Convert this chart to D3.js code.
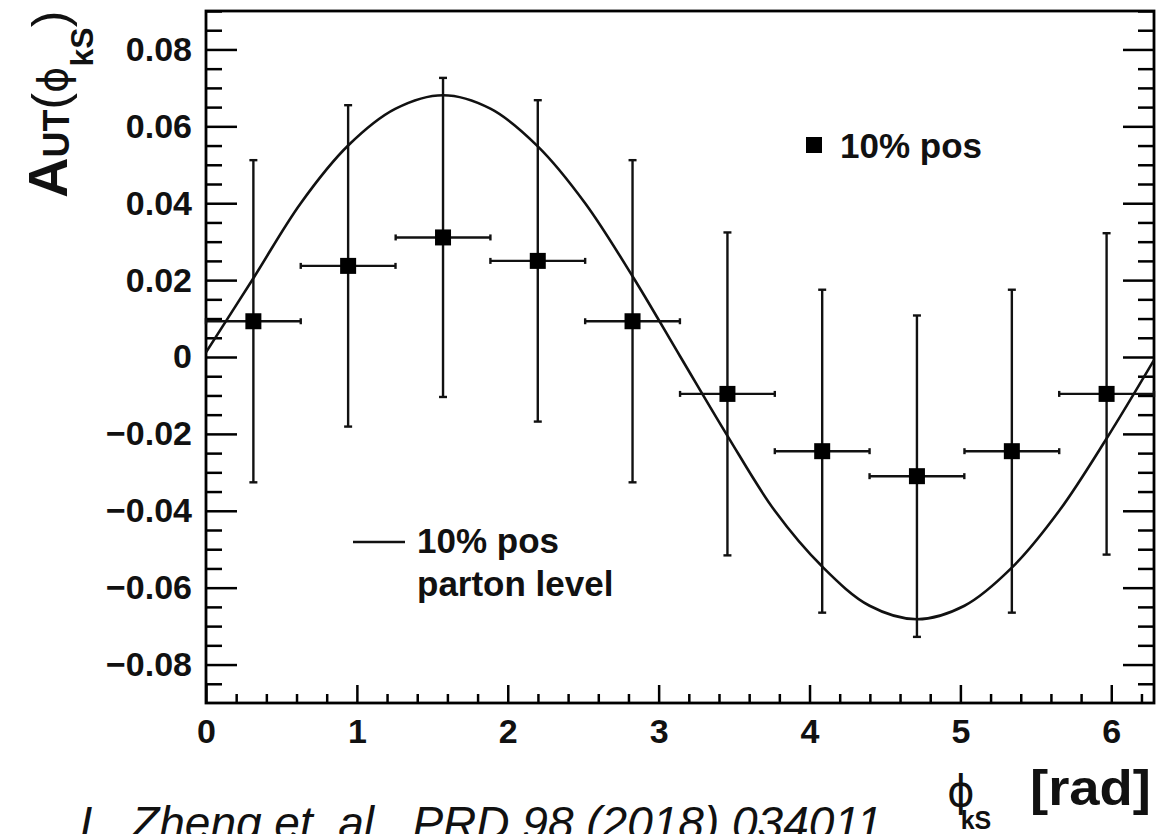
<!DOCTYPE html>
<html><head><meta charset="utf-8">
<script src="https://cdn.jsdelivr.net/npm/d3@7"></script>
<style>body{margin:0;background:#fff}svg{display:block}</style>
</head><body><svg id="c" width="1176" height="834"></svg>
<script>
// ---------- data ----------
const binCenters   = [0.314, 0.942, 1.571, 2.199, 2.827, 3.456, 4.084, 4.712, 5.341, 5.969];
const binHalfWidth = [0.314, 0.314, 0.314, 0.314, 0.314, 0.314, 0.314, 0.314, 0.314, 0.314];
const asymValues   = [0.0093, 0.0237, 0.0311, 0.0250, 0.0093, -0.0096, -0.0245, -0.0310, -0.0245, -0.0096];
const asymErrors   = [0.0419, 0.0418, 0.0415, 0.0418, 0.0419, 0.0420, 0.0420, 0.0418, 0.0420, 0.0418];
const curveX = [0, 0.314, 0.628, 0.942, 1.257, 1.571, 1.885, 2.199, 2.513, 2.827, 3.142,
                3.456, 3.770, 4.084, 4.398, 4.712, 5.027, 5.341, 5.655, 5.969, 6.283];
const curveY = [0.0012, 0.0205, 0.0400, 0.0550, 0.0646, 0.0681, 0.0646, 0.0548, 0.0400, 0.0210, 0.0002,
                -0.0205, -0.0400, -0.0545, -0.0647, -0.0682, -0.0647, -0.0548, -0.0400, -0.0212, -0.0008];
const xTickValues = [0, 1, 2, 3, 4, 5, 6];
const xTickLabels = ["0", "1", "2", "3", "4", "5", "6"];
const yTickValues = [-0.08, -0.06, -0.04, -0.02, 0, 0.02, 0.04, 0.06, 0.08];
const yTickLabels = ["\u22120.08", "\u22120.06", "\u22120.04", "\u22120.02", "0", "0.02", "0.04", "0.06", "0.08"];
const legendMarkerLabel = "10% pos";
const legendLineLabel = ["10% pos", "parton level"];
const caption = "L. Zheng et. al., PRD 98 (2018) 034011";

// ---------- layout ----------
const F = "'Liberation Sans', Arial, Helvetica, sans-serif";
const FP = "'DejaVu Sans', sans-serif";
const PHI = "\u03d5";
const L = 206, R = 1154, T = 11, B = 703;
const svg = d3.select("#c");
const x = d3.scaleLinear().domain([0, 2 * Math.PI]).range([L, R]);
const y = d3.scaleLinear().domain([-0.09, 0.09]).range([B, T]);

const xMinor = d3.range(0, 6.3, 0.2).filter(v => Math.abs(v - Math.round(v)) > 1e-6);
const yMinor = d3.range(-0.085, 0.0901, 0.005).filter(v => Math.abs(v * 50 - Math.round(v * 50)) > 1e-6);

function styleAxis(g) {
  g.select(".domain").remove();
  g.selectAll("line").attr("stroke", "#000").attr("stroke-width", 2.5);
  g.selectAll("text").attr("font-family", F).attr("font-weight", "bold")
    .attr("font-size", 34).attr("fill", "#111");
}

// major/minor ticks
svg.append("g").attr("transform", `translate(${L},0)`)
  .call(d3.axisLeft(y).tickValues(yTickValues).tickSize(-31).tickPadding(14)
    .tickFormat((d, i) => yTickLabels[i])).call(styleAxis);
svg.append("g").attr("transform", `translate(${L},0)`)
  .call(d3.axisLeft(y).tickValues(yMinor).tickSize(-16).tickFormat("")).call(styleAxis);
svg.append("g").attr("transform", `translate(${R},0)`)
  .call(d3.axisRight(y).tickValues(yTickValues).tickSize(-31).tickFormat("")).call(styleAxis);
svg.append("g").attr("transform", `translate(${R},0)`)
  .call(d3.axisRight(y).tickValues(yMinor).tickSize(-16).tickFormat("")).call(styleAxis);
svg.append("g").attr("transform", `translate(0,${B})`)
  .call(d3.axisBottom(x).tickValues(xTickValues).tickSize(-18).tickPadding(16)
    .tickFormat((d, i) => xTickLabels[i])).call(styleAxis);
svg.append("g").attr("transform", `translate(0,${B})`)
  .call(d3.axisBottom(x).tickValues(xMinor).tickSize(-9).tickFormat("")).call(styleAxis);

// frame
svg.append("rect").attr("x", L).attr("y", T).attr("width", R - L).attr("height", B - T)
  .attr("fill", "none").attr("stroke", "#000").attr("stroke-width", 2.8);

// clip
svg.append("clipPath").attr("id", "clip").append("rect")
  .attr("x", L).attr("y", T).attr("width", R - L).attr("height", B - T);

// curve
const curvePts = curveX.map((v, i) => [v, curveY[i]]);
svg.append("path").attr("clip-path", "url(#clip)")
  .attr("d", d3.line().x(d => x(d[0])).y(d => y(d[1])).curve(d3.curveCatmullRom.alpha(0.5))(curvePts))
  .attr("fill", "none").attr("stroke", "#111").attr("stroke-width", 2.6);

// error bars
const pts = binCenters.map((c, i) => ({ c, h: binHalfWidth[i], v: asymValues[i], e: asymErrors[i] }));
const eb = svg.append("g").attr("stroke", "#111").attr("stroke-width", 2.4);
pts.forEach(p => {
  eb.append("line").attr("x1", x(p.c - p.h)).attr("x2", x(p.c + p.h)).attr("y1", y(p.v)).attr("y2", y(p.v));
  eb.append("line").attr("x1", x(p.c)).attr("x2", x(p.c)).attr("y1", y(p.v - p.e)).attr("y2", y(p.v + p.e));
  // caps
  [p.v - p.e, p.v + p.e].forEach(v => eb.append("line")
    .attr("x1", x(p.c) - 4).attr("x2", x(p.c) + 4).attr("y1", y(v)).attr("y2", y(v)));
  [p.c - p.h, p.c + p.h].forEach(c => eb.append("line")
    .attr("x1", x(c)).attr("x2", x(c)).attr("y1", y(p.v) - 3).attr("y2", y(p.v) + 3));
});
// markers
svg.append("g").selectAll("rect").data(pts).join("rect")
  .attr("x", d => x(d.c) - 8).attr("y", d => y(d.v) - 8).attr("width", 16).attr("height", 16)
  .attr("fill", "#000");

// legend 1
svg.append("rect").attr("x", 806).attr("y", 137).attr("width", 16).attr("height", 16).attr("fill", "#000");
svg.append("text").attr("x", 840).attr("y", 158).attr("font-family", F).attr("font-weight", "bold")
  .attr("font-size", 35).attr("fill", "#111").text(legendMarkerLabel);
// legend 2
svg.append("line").attr("x1", 353).attr("x2", 405).attr("y1", 542).attr("y2", 542)
  .attr("stroke", "#111").attr("stroke-width", 2.6);
legendLineLabel.forEach((t, i) => svg.append("text").attr("x", 417).attr("y", 553 + i * 43)
  .attr("font-family", F).attr("font-weight", "bold").attr("font-size", 35).attr("fill", "#111").text(t));

// y-axis title
const yl = svg.append("text").attr("transform", "translate(67,198) rotate(-90)")
  .attr("font-family", F).attr("font-weight", "bold").attr("fill", "#111");
yl.append("tspan").attr("font-size", 56).text("A");
yl.append("tspan").attr("font-size", 36).attr("dy", 2).text("UT");
yl.append("tspan").attr("font-size", 50).attr("dy", -2).attr("font-weight", "normal").text("(");
yl.append("tspan").attr("font-size", 40).attr("font-family", FP).attr("font-weight", "normal").text(PHI);
yl.append("tspan").attr("font-size", 32).attr("dy", 26).text("kS");
yl.append("tspan").attr("font-size", 50).attr("dy", -26).attr("font-weight", "normal").text(")");

// x-axis title (single text element: phi with its subscript)
const xl = svg.append("text").attr("x", 947).attr("y", 806).attr("fill", "#111");
xl.append("tspan").attr("font-family", FP).attr("font-size", 42).text(PHI);
xl.append("tspan").attr("font-family", F).attr("font-weight", "bold").attr("font-size", 25)
  .attr("dx", -14).attr("dy", 23).text("kS");
svg.append("text").attr("x", 1030).attr("y", 805).attr("font-family", F).attr("font-weight", "bold")
  .attr("font-size", 50).attr("textLength", 121).attr("lengthAdjust", "spacingAndGlyphs")
  .attr("fill", "#111").text("[rad]");

// caption
svg.append("text").attr("x", 80).attr("y", 839).attr("font-family", F).attr("font-style", "italic")
  .attr("font-size", 46).attr("fill", "#111").text(caption);
</script></body></html>
